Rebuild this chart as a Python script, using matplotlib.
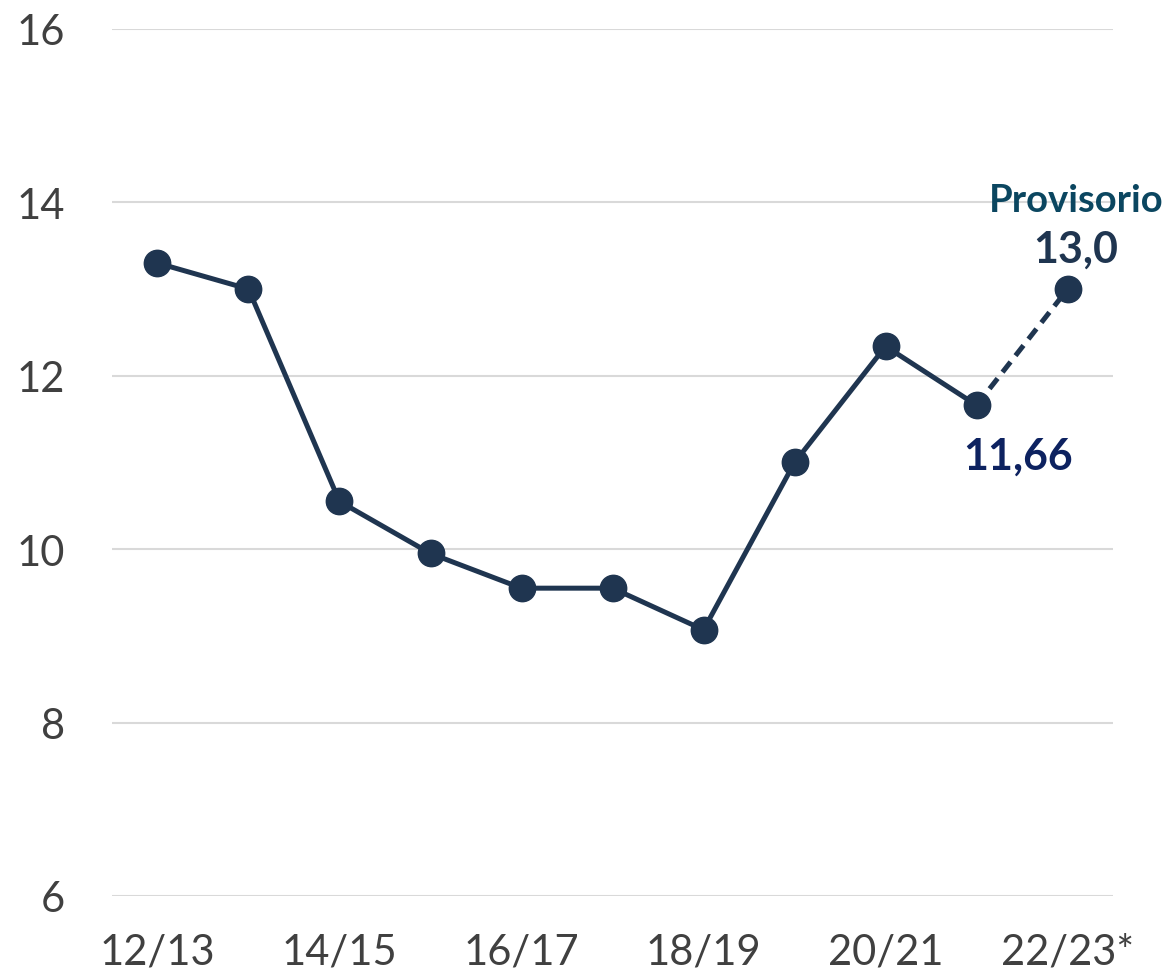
import matplotlib.pyplot as plt

seasons = ["12/13", "13/14", "14/15", "15/16", "16/17", "17/18",
           "18/19", "19/20", "20/21", "21/22", "22/23*"]
values = [13.3, 13.0, 10.55, 9.95, 9.55, 9.55, 9.07, 11.0, 12.34, 11.66, 13.0]
tick_labels = ["12/13", "14/15", "16/17", "18/19", "20/21", "22/23*"]

line_color = "#1f3550"
plt.rcParams["font.family"] = ["Lato", "DejaVu Sans"]

fig = plt.figure(figsize=(11.71, 9.79), dpi=100)
ax = fig.add_axes([0.0956, 0.0838, 0.855, 0.8856])

x = list(range(len(seasons)))
# final season is provisional -> dashed link
ax.plot(x[:-1], values[:-1], color=line_color, lw=3.6, zorder=3)
ax.plot(x[-2:], values[-2:], color=line_color, lw=3.6, ls=(0, (2.6, 1.6)), zorder=3)
ax.plot(x, values, "o", color=line_color, ms=19, zorder=4)

ax.set_xlim(-0.5, 10.5)
ax.set_ylim(6, 16)
ax.set_yticks([6, 8, 10, 12, 14, 16])
ax.set_xticks(x[::2])
ax.set_xticklabels(tick_labels)
ax.grid(axis="y", color="#d9d9d9", lw=1.5)
ax.set_axisbelow(True)
for s in ax.spines.values():
    s.set_visible(False)
ax.tick_params(axis="both", length=0, labelsize=30, labelcolor="#404040")
ax.tick_params(axis="y", pad=34)
ax.tick_params(axis="x", pad=26)

ax.annotate("13,0", (x[-1], values[-1]), xytext=(6, 15), textcoords="offset points",
            ha="center", va="bottom", fontsize=31, fontweight="bold", color=line_color)
ax.annotate("Provisorio", (x[-1], values[-1]), xytext=(6, 52), textcoords="offset points",
            ha="center", va="bottom", fontsize=27.5, fontweight="bold", color="#0b4660",
            annotation_clip=False)
ax.annotate("11,66", (x[-2], values[-2]), xytext=(30, -22), textcoords="offset points",
            ha="center", va="top", fontsize=31, fontweight="bold", color="#0d2260")

fig.savefig("out.png", dpi=100)
